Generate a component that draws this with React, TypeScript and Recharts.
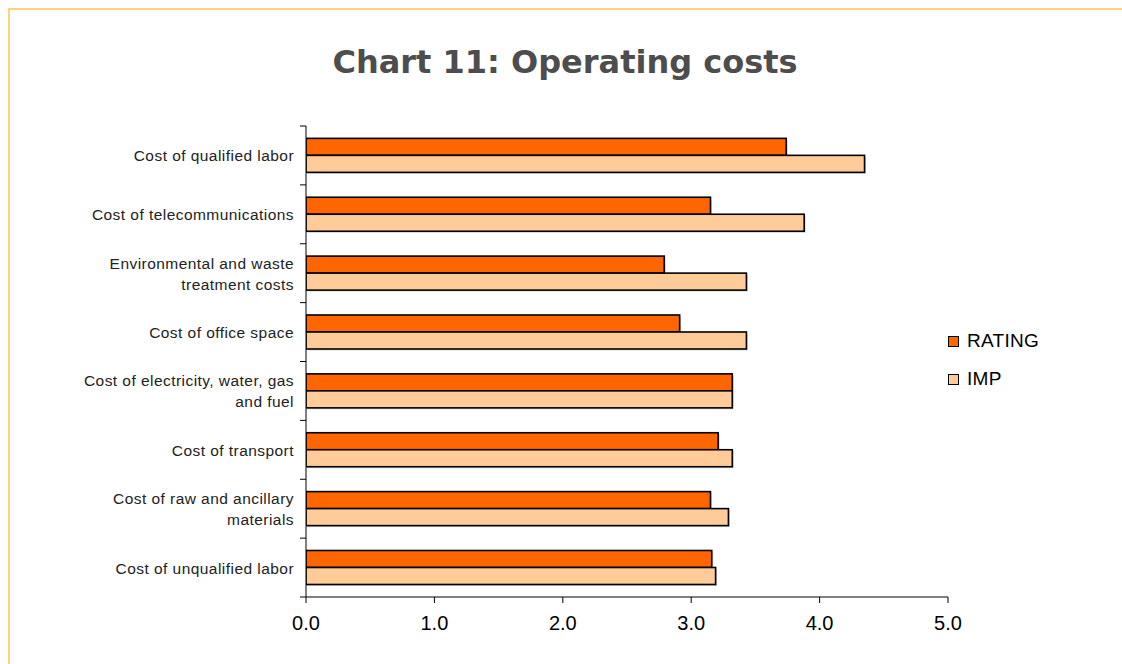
import React from "react";
import { BarChart, Bar, XAxis, YAxis, Legend } from "recharts";

const categories = [
  "Cost of qualified labor",
  "Cost of telecommunications",
  "Environmental and waste\ntreatment costs",
  "Cost of office space",
  "Cost of electricity, water, gas\nand fuel",
  "Cost of transport",
  "Cost of raw and ancillary\nmaterials",
  "Cost of unqualified labor",
];
const ratingValues = [3.74, 3.15, 2.79, 2.91, 3.32, 3.21, 3.15, 3.16];
const impValues = [4.35, 3.88, 3.43, 3.43, 3.32, 3.32, 3.29, 3.19];
const xTicks = [0, 1, 2, 3, 4, 5];
const seriesNames = ["RATING", "IMP"];
const seriesColors = ["#FF6600", "#FFCC99"];

const data = categories.map((c, i) => ({
  name: c,
  RATING: ratingValues[i],
  IMP: impValues[i],
}));

const W = 1122;
const H = 664;
const MARGIN = { top: 126, right: 174, bottom: 37, left: 16 };
const Y_AXIS_W = 290;
const X_AXIS_H = 30;
const PLOT_H = H - MARGIN.top - MARGIN.bottom - X_AXIS_H;
const BAND = PLOT_H / categories.length;
const AXIS_X = MARGIN.left + Y_AXIS_W;

const YTick = (props: any) => {
  const { y, payload, index } = props;
  const lines = String(payload.value).split("\n");
  const lh = 21;
  const startY = y - ((lines.length - 1) * lh) / 2;
  return (
    <g>
      <line x1={AXIS_X - 6} x2={AXIS_X} y1={y - BAND / 2} y2={y - BAND / 2} stroke="#000" strokeWidth={1} />
      {index === categories.length - 1 && (
        <line x1={AXIS_X - 6} x2={AXIS_X} y1={y + BAND / 2} y2={y + BAND / 2} stroke="#000" strokeWidth={1} />
      )}
      <text
        x={AXIS_X - 12}
        y={startY}
        textAnchor="end"
        dominantBaseline="central"
        fill="#222"
        style={{ fontFamily: "Liberation Sans, Arial, sans-serif", fontSize: 15.5, letterSpacing: 0.45 }}
      >
        {lines.map((l, i) => (
          <tspan key={i} x={AXIS_X - 12} dy={i === 0 ? 0 : lh}>
            {l}
          </tspan>
        ))}
      </text>
    </g>
  );
};

const BarShape = (props: any) => {
  const { x, y, width, height, fill } = props;
  return (
    <g>
      <rect x={x + 1.5} y={y + 1.5} width={width} height={height} fill="#bbb" opacity={0.6} />
      <rect x={x} y={y} width={width} height={height} fill={fill} stroke="#000" strokeWidth={1.6} />
    </g>
  );
};

const LegendContent = () => (
  <div style={{ fontFamily: "Liberation Sans, Arial, sans-serif", fontSize: 19, color: "#000" }}>
    {seriesNames.map((n, i) => (
      <div key={n} style={{ display: "flex", alignItems: "center", height: 38 }}>
        <div
          style={{
            width: 9,
            height: 9,
            background: seriesColors[i],
            border: "1.5px solid #000",
            marginRight: 8,
          }}
        />
        <span style={{ letterSpacing: 0.3 }}>{n}</span>
      </div>
    ))}
  </div>
);

export default function App() {
  return (
    <div style={{ position: "absolute", left: 0, top: 0, width: W, height: H, background: "#fff", overflow: "hidden" }}>
      <div
        style={{
          position: "absolute",
          left: 8,
          top: 8,
          width: W,
          height: H,
          borderTop: "2px solid #FFD27F",
          borderLeft: "2px solid #FFD27F",
        }}
      />
      <div
        style={{
          position: "absolute",
          left: 0,
          width: W,
          top: 43,
          textAlign: "center",
          paddingLeft: 4,
          fontFamily: "DejaVu Sans, Verdana, sans-serif",
          fontWeight: "bold",
          fontSize: 32,
          color: "#4D4D4D",
        }}
      >
        Chart 11: Operating costs
      </div>
      <div style={{ position: "absolute", left: 0, top: 0 }}>
        <BarChart
          width={W}
          height={H}
          data={data}
          layout="vertical"
          margin={MARGIN}
          barCategoryGap="21%"
          barGap={0}
        >
          <XAxis
            type="number"
            domain={[0, 5]}
            ticks={xTicks}
            height={X_AXIS_H}
            tickFormatter={(v: number) => v.toFixed(1)}
            axisLine={{ stroke: "#000", strokeWidth: 1 }}
            tickLine={{ stroke: "#000", strokeWidth: 1 }}
            tickSize={6}
            tickMargin={13}
            tick={{ fill: "#000", fontSize: 20, fontFamily: "Liberation Sans, Arial, sans-serif" }}
            allowDataOverflow
          />
          <YAxis
            type="category"
            dataKey="name"
            width={Y_AXIS_W}
            axisLine={{ stroke: "#000", strokeWidth: 1 }}
            tickLine={false}
            tick={<YTick />}
            interval={0}
          />
          <Legend
            layout="vertical"
            align="center"
            verticalAlign="middle"
            content={<LegendContent />}
            wrapperStyle={{ position: "absolute", left: 948, top: 322, width: 160, bottom: "auto", right: "auto" }}
          />
          <Bar dataKey="RATING" name="RATING" fill={seriesColors[0]} shape={<BarShape />} isAnimationActive={false} />
          <Bar dataKey="IMP" name="IMP" fill={seriesColors[1]} shape={<BarShape />} isAnimationActive={false} />
        </BarChart>
      </div>
    </div>
  );
}
